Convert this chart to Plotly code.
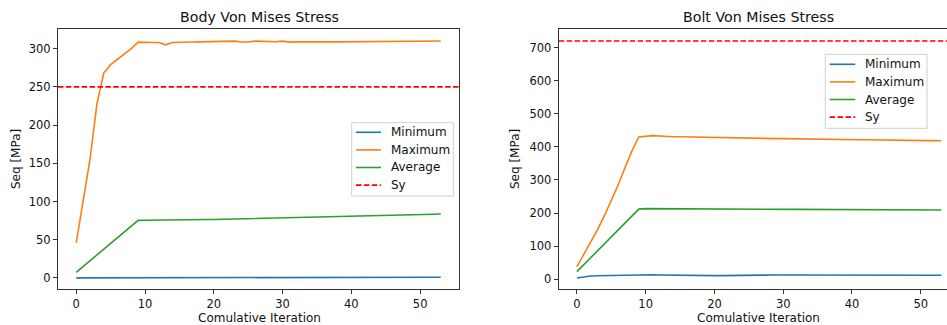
import plotly.graph_objects as go

# ---------------- data ----------------
iterations = list(range(54))

body_min = [0.2, 0.2, 0.2, 0.2, 0.2, 0.2, 0.2, 0.2, 0.2, 0.2,
            0.2, 0.2, 0.2, 0.2, 0.2, 0.3, 0.3, 0.3, 0.3, 0.3,
            0.3, 0.3, 0.4, 0.4, 0.4, 0.4, 0.4, 0.5, 0.5, 0.5,
            0.5, 0.5, 0.6, 0.6, 0.6, 0.6, 0.6, 0.7, 0.7, 0.7,
            0.7, 0.7, 0.7, 0.8, 0.8, 0.8, 0.8, 0.8, 0.8, 0.9,
            0.9, 0.9, 0.9, 0.9]
body_max = [46, 100, 155, 227, 268, 279, 286, 293, 300, 308.5,
            308, 308, 308, 305, 308, 308.5, 308.5, 308.7, 308.8, 309,
            309, 309.2, 309.5, 309.8, 308.7, 308.7, 309.8, 309.5, 308.7, 309,
            309.8, 308.5, 308.8, 309, 308.8, 308.7, 308.8, 308.8, 308.9, 309,
            309, 309, 309.1, 309.2, 309.3, 309.4, 309.5, 309.5, 309.6, 309.7,
            309.8, 309.8, 309.9, 310]
body_avg = [7.4, 15, 22.5, 30, 37.5, 45, 52.5, 60, 67.5, 75.4,
            75.6, 75.8, 75.9, 76, 76, 76.1, 76.2, 76.3, 76.4, 76.5,
            76.6, 76.8, 77, 77.1, 77.2, 77.3, 77.5, 77.7, 77.9, 78.1,
            78.3, 78.5, 78.6, 78.8, 79, 79.2, 79.4, 79.6, 79.8, 80,
            80.2, 80.4, 80.6, 80.8, 81, 81.3, 81.6, 81.9, 82.2, 82.5,
            82.8, 83.1, 83.4, 83.7]
body_sy = 250

bolt_min = [4, 7, 10, 10.5, 11, 11, 11.5, 12, 13, 14,
            14, 13.5, 13, 12.5, 12, 12, 11.5, 11.5, 11, 11,
            11, 11, 11.5, 11.5, 12, 12, 12.5, 12.5, 13, 13,
            13, 13, 13, 13, 13, 13, 13, 13, 13, 13,
            13, 12.8, 12.8, 12.6, 12.6, 12.5, 12.4, 12.3, 12.2, 12.2,
            12.1, 12, 12, 12]
bolt_max = [38, 75, 112, 150, 192, 238, 285, 338, 388, 430,
            433, 434, 433, 431, 430.5, 430.5, 430, 429, 428.5, 428,
            428, 427.5, 427, 427, 426.5, 426, 426, 425.5, 425.5, 425,
            425, 424.5, 424, 424, 423.5, 423.5, 423, 423, 422.5, 422,
            422, 421.5, 421.5, 421, 421, 420.5, 420.5, 420, 420, 419.5,
            419.5, 419, 419, 418.5]
bolt_avg = [23, 44, 65, 86, 107, 128, 149, 170, 191, 212,
            213.5, 213.5, 213.5, 213, 213, 213, 212.8, 212.6, 212.5, 212.4,
            212.3, 212.2, 212.1, 212, 212, 211.9, 211.8, 211.7, 211.6, 211.5,
            211.4, 211.3, 211.2, 211.1, 211, 210.9, 210.8, 210.7, 210.6, 210.5,
            210.4, 210.3, 210.2, 210.1, 210, 209.9, 209.9, 209.8, 209.8, 209.7,
            209.7, 209.6, 209.6, 209.5]
bolt_sy = 720

series_names = ["Minimum", "Maximum", "Average", "Sy"]
titles = ["Body Von Mises Stress", "Bolt Von Mises Stress"]
x_label = "Comulative Iteration"
y_label = "Seq [MPa]"
body_yticks = [0, 50, 100, 150, 200, 250, 300]
bolt_yticks = [0, 100, 200, 300, 400, 500, 600, 700]
xticks = [0, 10, 20, 30, 40, 50]

# ---------------- style ----------------
colors = ["#1f77b4", "#ff7f0e", "#2ca02c", "#ff0000"]
W, H = 947, 325
FONT = "DejaVu Sans"
TXT = "#111111"
AX = "#333333"
SY_DASH = "5.5px,2.4px"
LBL = 12
TICK = 11.5

def px_x(p):
    return p / W

def px_y(p):
    return 1 - p / H

fig = go.Figure()

panels = [
    dict(xa="x", ya="y", data=[body_min, body_max, body_avg], sy=body_sy,
         legbox=(351.7, 122.7, 453.3, 196.0), line_x=(356, 381), text_x=390, row0=132.3),
    dict(xa="x2", ya="y2", data=[bolt_min, bolt_max, bolt_avg], sy=bolt_sy,
         legbox=(825.3, 54.3, 927.0, 128.3), line_x=(829.7, 855.3), text_x=864.3, row0=64.3),
]

shapes = []
ann = []
ROW = 17.6

for p in panels:
    for name, vals, col in zip(series_names[:3], p["data"], colors[:3]):
        fig.add_trace(go.Scatter(
            x=iterations, y=vals, mode="lines", name=name,
            line=dict(color=col, width=1.6),
            xaxis=p["xa"], yaxis=p["ya"], showlegend=False,
        ))
    shapes.append(dict(
        type="line", xref=f"{p['xa']} domain", yref=p["ya"],
        x0=0, x1=1, y0=p["sy"], y1=p["sy"],
        line=dict(color=colors[3], width=1.6, dash=SY_DASH),
    ))
    # legend box
    bx0, by0, bx1, by1 = p["legbox"]
    shapes.append(dict(
        type="rect", xref="paper", yref="paper",
        x0=px_x(bx0), x1=px_x(bx1), y0=px_y(by1), y1=px_y(by0),
        line=dict(color="#d0d0d0", width=1), fillcolor="rgba(255,255,255,0.8)",
        layer="above",
    ))
    for i, (name, col) in enumerate(zip(series_names, colors)):
        ry = p["row0"] + i * ROW
        shapes.append(dict(
            type="line", xref="paper", yref="paper",
            x0=px_x(p["line_x"][0]), x1=px_x(p["line_x"][1]),
            y0=px_y(ry), y1=px_y(ry), layer="above",
            line=dict(color=col, width=1.6, dash=SY_DASH if name == "Sy" else "solid"),
        ))
        ann.append(dict(text=name, x=px_x(p["text_x"] - 1), y=px_y(ry),
                        xref="paper", yref="paper", showarrow=False,
                        xanchor="left", yanchor="middle",
                        font=dict(family=FONT, size=LBL, color=TXT)))

axis_common = dict(
    showgrid=False, zeroline=False, showline=True, linecolor=AX, linewidth=1,
    ticks="outside", ticklen=4, tickwidth=1, tickcolor=AX,
    tickfont=dict(family=FONT, size=TICK, color=TXT),
)

fig.update_layout(
    width=W, height=H,
    margin=dict(l=0, r=0, t=0, b=0),
    paper_bgcolor="white", plot_bgcolor="white",
    font=dict(family=FONT, size=LBL, color=TXT),
    showlegend=False,
    xaxis=dict(domain=[px_x(58), px_x(459)], range=[-2.65, 55.65], anchor="y",
               tickvals=xticks, mirror=True, **axis_common),
    yaxis=dict(domain=[px_y(289), px_y(29)], range=[-14.4, 325.7], anchor="x",
               tickvals=body_yticks, mirror=True, **axis_common),
    xaxis2=dict(domain=[px_x(558.7), 1.0], range=[-2.65, 53.82], anchor="y2",
                tickvals=xticks, mirror=True, **axis_common),
    yaxis2=dict(domain=[px_y(289), px_y(29)], range=[-29.5, 756.4], anchor="x2",
                tickvals=bolt_yticks, mirror=False, **axis_common),
)

# titles and axis labels
for cx, t in [(259, titles[0]), (758.7, titles[1])]:
    ann.append(dict(text=t, x=px_x(cx), y=px_y(17), xref="paper", yref="paper",
                    showarrow=False, xanchor="center", yanchor="middle",
                    font=dict(family=FONT, size=14.2, color=TXT)))
for cx in [259, 758.7]:
    ann.append(dict(text=x_label, x=px_x(cx), y=px_y(318), xref="paper", yref="paper",
                    showarrow=False, xanchor="center", yanchor="middle",
                    font=dict(family=FONT, size=LBL, color=TXT)))
for cx in [16, 515]:
    ann.append(dict(text=y_label, x=px_x(cx), y=px_y(159), xref="paper", yref="paper",
                    showarrow=False, xanchor="center", yanchor="middle", textangle=-90,
                    font=dict(family=FONT, size=LBL, color=TXT)))
fig.update_layout(annotations=ann, shapes=shapes)

fig.write_html("out.html", config={"displayModeBar": False},
               post_script="document.body.style.margin='0';document.body.style.overflow='hidden';")
